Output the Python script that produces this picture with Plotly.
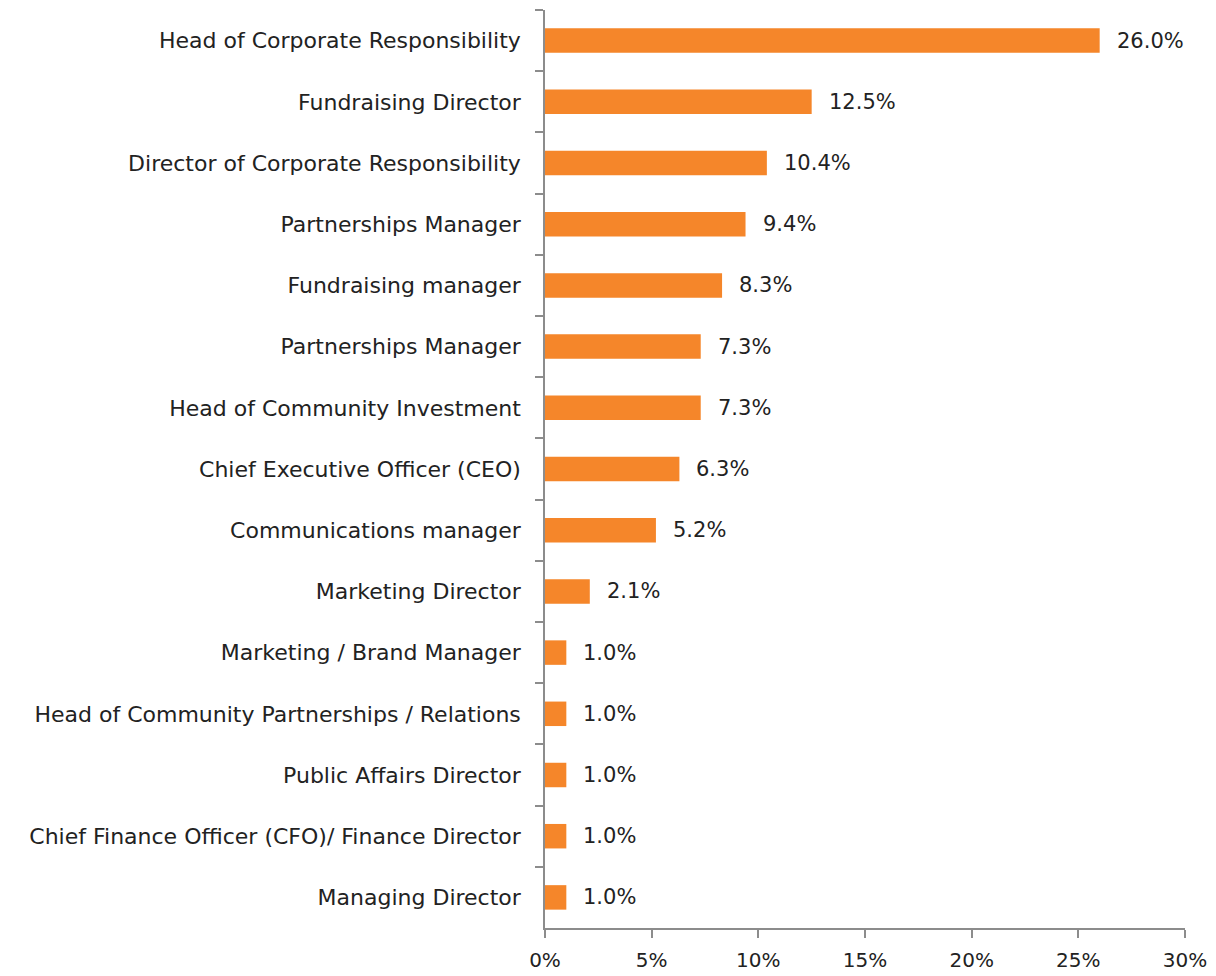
import plotly.graph_objects as go

# job titles, top to bottom (zero-width space keeps the duplicate title a separate category)
roles = [
    "Head of Corporate Responsibility",
    "Fundraising Director",
    "Director of Corporate Responsibility",
    "Partnerships Manager",
    "Fundraising manager",
    "Partnerships Manager\u200b",
    "Head of Community Investment",
    "Chief Executive Officer (CEO)",
    "Communications manager",
    "Marketing Director",
    "Marketing / Brand Manager",
    "Head of Community Partnerships / Relations",
    "Public Affairs Director",
    "Chief Finance Officer (CFO)/ Finance Director",
    "Managing Director",
]
shares = [26.0, 12.5, 10.4, 9.4, 8.3, 7.3, 7.3, 6.3, 5.2, 2.1, 1.0, 1.0, 1.0, 1.0, 1.0]

ORANGE = "#F5862A"
AXIS = "#8C8C8C"
FONT = "DejaVu Sans"

fig = go.Figure(go.Bar(
    x=shares,
    y=roles,
    orientation="h",
    marker=dict(color=ORANGE, line=dict(width=0)),
    hoverinfo="skip",
))

# value labels to the right of each bar
for role, v in zip(roles, shares):
    fig.add_annotation(
        x=v, y=role, text=f"{v:.1f}%",
        xanchor="left", yanchor="middle", xshift=15,
        showarrow=False,
        font=dict(family=FONT, size=21, color="#222222"),
    )

# the page body adds about 8px on the left and top, margins allow for it
fig.update_layout(
    width=1216,
    height=976,
    margin=dict(l=537, r=39, t=2, b=56),
    paper_bgcolor="white",
    plot_bgcolor="white",
    bargap=0.6,
    showlegend=False,
    font=dict(family=FONT, size=21, color="#222222"),
)

fig.update_xaxes(
    range=[0, 30],
    dtick=5,
    ticksuffix="%",
    showgrid=False,
    zeroline=False,
    showline=True,
    linecolor=AXIS,
    linewidth=1.5,
    ticks="outside",
    ticklen=8,
    tickcolor=AXIS,
    tickwidth=1.5,
    tickfont=dict(size=20),
    ticklabelstandoff=5,
    automargin=False,
)

fig.update_yaxes(
    categoryorder="array",
    categoryarray=roles,
    autorange="reversed",
    showgrid=False,
    showline=True,
    linecolor=AXIS,
    linewidth=1.5,
    ticks="outside",
    ticklen=8,
    tickcolor=AXIS,
    tickwidth=1.5,
    tickson="boundaries",
    tickfont=dict(size=22),
    ticklabelstandoff=18,
    automargin=False,
)

fig.write_html("out.html")
